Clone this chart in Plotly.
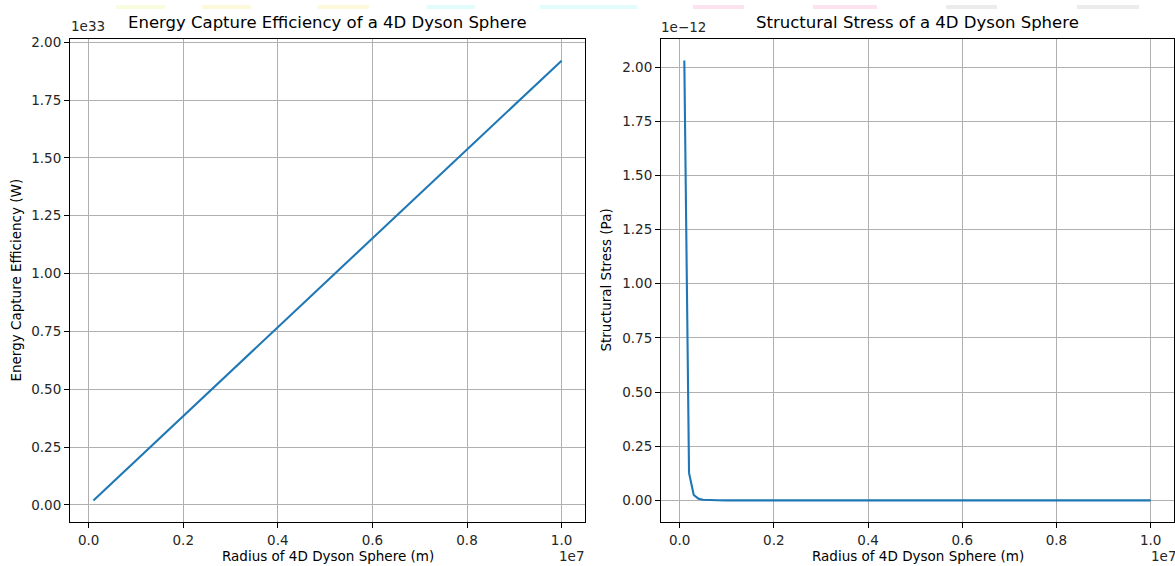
import plotly.graph_objects as go

# ---- data ----
radius_energy_m = [1e5, 1e6, 2e6, 3e6, 4e6, 5e6, 6e6, 7e6, 8e6, 9e6, 1e7]
energy_w = [0.0192e33, 0.192e33, 0.384e33, 0.576e33, 0.768e33, 0.960e33,
            1.152e33, 1.344e33, 1.536e33, 1.728e33, 1.920e33]

radius_stress_m = [1e5, 2e5, 3e5, 4e5, 5e5, 6e5, 7e5, 8e5, 1e6, 1.5e6, 2e6,
                   3e6, 5e6, 7e6, 1e7]
stress_pa = [2.03e-12, 0.127e-12, 0.025e-12, 0.008e-12, 0.0033e-12, 0.0016e-12,
             0.0008e-12, 0.0005e-12, 0.0002e-12, 0.00004e-12, 0.00001e-12,
             0.0, 0.0, 0.0, 0.0]

x_tick_vals = [0, 2e6, 4e6, 6e6, 8e6, 1e7]
x_tick_text = ["0.0", "0.2", "0.4", "0.6", "0.8", "1.0"]
y_tick_text = ["0.00", "0.25", "0.50", "0.75", "1.00", "1.25", "1.50", "1.75", "2.00"]
y_tick_units = [0, 0.25, 0.5, 0.75, 1.0, 1.25, 1.5, 1.75, 2.0]
energy_tick_vals = [v * 1e33 for v in y_tick_units]
stress_tick_vals = [v * 1e-12 for v in y_tick_units]

titles = ["Energy Capture Efficiency of a 4D Dyson Sphere",
          "Structural Stress of a 4D Dyson Sphere"]
x_label = "Radius of 4D Dyson Sphere (m)"
y_labels = ["Energy Capture Efficiency (W)", "Structural Stress (Pa)"]
y_offsets = ["1e33", "1e\u221212"]
x_offset = "1e7"

# ---- layout helpers ----
W, H = 1175, 566
def px(x):
    return x / W
def py(y):
    return 1 - y / H

FONT = "DejaVu Sans"
LINE = "#1f77b4"

fig = go.Figure()
fig.add_trace(go.Scatter(x=radius_energy_m, y=energy_w, mode="lines",
                         line=dict(color=LINE, width=2.1), xaxis="x", yaxis="y",
                         showlegend=False, hoverinfo="x+y"))
fig.add_trace(go.Scatter(x=radius_stress_m, y=stress_pa, mode="lines",
                         line=dict(color=LINE, width=2.1), xaxis="x2", yaxis="y2",
                         showlegend=False, hoverinfo="x+y"))

axis_common = dict(showline=True, linecolor="black", linewidth=1, mirror=True,
                   ticks="outside", ticklen=5, tickwidth=1, tickcolor="black",
                   showgrid=True, gridcolor="#b0b0b0", gridwidth=0.8,
                   zeroline=False, tickfont=dict(family=FONT, size=13.5, color="#262626"))

x_range = [-0.395e6, 1.0495e7]
left_dom = [px(70), px(585)]
right_dom = [px(661), px(1174)]
y_dom = [py(522), py(34)]

fig.update_layout(
    width=W, height=H,
    margin=dict(l=0, r=0, t=0, b=0),
    paper_bgcolor="white", plot_bgcolor="white",
    font=dict(family=FONT, color="black"),
    xaxis=dict(domain=left_dom, range=x_range, tickvals=x_tick_vals,
               ticktext=x_tick_text, anchor="y", **axis_common),
    yaxis=dict(domain=y_dom, range=[-0.0758e33, 2.015e33], tickvals=energy_tick_vals,
               ticktext=y_tick_text, anchor="x", **axis_common),
    xaxis2=dict(domain=right_dom, range=x_range, tickvals=x_tick_vals,
                ticktext=x_tick_text, anchor="y2", **axis_common),
    yaxis2=dict(domain=y_dom, range=[-0.1015e-12, 2.131e-12], tickvals=stress_tick_vals,
                ticktext=y_tick_text, anchor="x2", **axis_common),
)

ann = []
centers = [(70 + 585) / 2, (661 + 1174) / 2]
for i, cx in enumerate(centers):
    ann.append(dict(text=titles[i], x=px(cx), y=py(18), xref="paper", yref="paper",
                    showarrow=False, xanchor="center", yanchor="middle",
                    font=dict(family=FONT, size=16.5, color="black")))
    ann.append(dict(text=x_label, x=px(cx), y=py(556), xref="paper", yref="paper",
                    showarrow=False, xanchor="center", yanchor="middle",
                    font=dict(family=FONT, size=13.5, color="black")))
ylab_x = [16, 606]
for i, lx in enumerate(ylab_x):
    ann.append(dict(text=y_labels[i], x=px(lx), y=py(278), xref="paper", yref="paper",
                    showarrow=False, textangle=-90, xanchor="center", yanchor="middle",
                    font=dict(family=FONT, size=13.5, color="black")))
# offset texts
ann.append(dict(text=y_offsets[0], x=px(69), y=py(21), xref="paper", yref="paper",
                showarrow=False, xanchor="left", yanchor="middle",
                font=dict(family=FONT, size=13.5, color="#262626")))
ann.append(dict(text=y_offsets[1], x=px(659), y=py(22), xref="paper", yref="paper",
                showarrow=False, xanchor="left", yanchor="middle",
                font=dict(family=FONT, size=13.5, color="#262626")))
ann.append(dict(text=x_offset, x=px(586), y=py(556), xref="paper", yref="paper",
                showarrow=False, xanchor="right", yanchor="middle",
                font=dict(family=FONT, size=13.5, color="#262626")))
ann.append(dict(text=x_offset, x=px(1178), y=py(556), xref="paper", yref="paper",
                showarrow=False, xanchor="right", yanchor="middle",
                font=dict(family=FONT, size=13.5, color="#262626")))
fig.update_layout(annotations=ann)

# faint coloured strips along the top edge of the picture
strips = [(116, 165, "#f9fcdf"), (202, 251, "#fdfadc"), (318, 369, "#fdf9da"),
          (427, 475, "#e2fbfb"), (540, 637, "#e2fbfb"), (693, 744, "#fde2ef"),
          (813, 877, "#fde2ef"), (946, 997, "#ececec"), (1077, 1139, "#ececec")]
shapes = []
for x0, x1, c in strips:
    shapes.append(dict(type="rect", xref="paper", yref="paper",
                       x0=px(x0), x1=px(x1), y0=py(4), y1=1.0,
                       fillcolor=c, line=dict(width=0), layer="below"))
fig.update_layout(shapes=shapes)

fig.write_html("out.html")
